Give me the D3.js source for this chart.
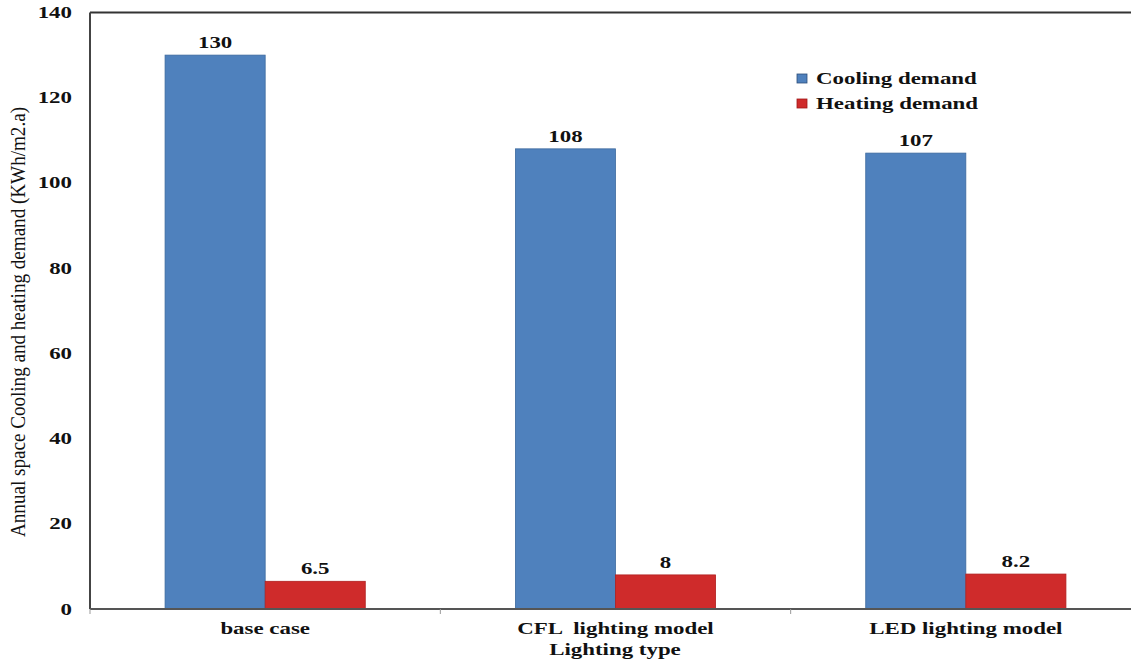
<!DOCTYPE html>
<html>
<head>
<meta charset="utf-8">
<script src="https://cdn.jsdelivr.net/npm/d3@7"></script>
<style>
  html, body { margin: 0; padding: 0; background: #fff; }
  svg { display: block; }
  text { font-family: "Liberation Serif", "Times New Roman", serif; fill: #111; white-space: pre; }
</style>
</head>
<body>
<svg id="chart" width="1131" height="661"></svg>
<script>
// Lighting scenarios and annual demand per series (kWh/m2.a)
const categories = ["base case", "CFL  lighting model", "LED lighting model"];
const seriesNames = ["Cooling demand", "Heating demand"];
const coolingDemand = [130, 108, 107];
const heatingDemand = [6.5, 8, 8.2];
const valueLabels = [["130", "108", "107"], ["6.5", "8", "8.2"]];
const yTicks = [0, 20, 40, 60, 80, 100, 120, 140];
const colors = ["#4F81BD", "#CF2B2B"];

const series = [coolingDemand, heatingDemand];
const svg = d3.select("#chart");

const plot = { left: 90, right: 1141, top: 12.5, bottom: 609 };
const sx = 1.43; // horizontal stretch applied to bold labels

const x0 = d3.scaleBand().domain(categories).range([plot.left, plot.right]).paddingInner(0).paddingOuter(0);
const x1 = d3.scaleBand().domain(seriesNames).range([0, x0.bandwidth()]).paddingOuter(0.75).paddingInner(0);
const y = d3.scaleLinear().domain([0, 140]).range([plot.bottom, plot.top]);

// Bars with value labels
categories.forEach((c, i) => {
  seriesNames.forEach((s, j) => {
    const v = series[j][i];
    svg.append("rect")
      .attr("x", x0(c) + x1(s))
      .attr("y", y(v))
      .attr("width", x1.bandwidth())
      .attr("height", y(0) - y(v))
      .attr("fill", colors[j])
      .attr("stroke", j === 0 ? "#3d6a9e" : "#b02020")
      .attr("stroke-width", 0.8);
    svg.append("text")
      .attr("transform", `translate(${x0(c) + x1(s) + x1.bandwidth() / 2},${y(v) - 7}) scale(${sx},1)`)
      .attr("text-anchor", "middle")
      .attr("font-weight", "bold")
      .attr("font-size", 16)
      .text(valueLabels[j][i]);
  });
});

// Frame: top and left lines
svg.append("line").attr("x1", plot.left).attr("x2", plot.right).attr("y1", plot.top).attr("y2", plot.top)
  .attr("stroke", "#333").attr("stroke-width", 2);
svg.append("line").attr("x1", plot.left).attr("x2", plot.left).attr("y1", plot.top).attr("y2", plot.bottom)
  .attr("stroke", "#444").attr("stroke-width", 2);

// X axis
const xAxis = svg.append("g").attr("transform", `translate(0,${plot.bottom})`);
xAxis.append("line").attr("x1", plot.left).attr("x2", plot.right).attr("y1", 0).attr("y2", 0)
  .attr("stroke", "#555").attr("stroke-width", 2);
const boundaries = categories.map(c => x0(c));
xAxis.selectAll("line.tick").data(boundaries).enter().append("line")
  .attr("x1", d => d).attr("x2", d => d).attr("y1", 0).attr("y2", 5)
  .attr("stroke", "#999").attr("stroke-width", 1);
xAxis.selectAll("text.cat").data(categories).enter().append("text")
  .attr("transform", d => `translate(${x0(d) + x0.bandwidth() / 2},25) scale(${sx},1)`)
  .attr("text-anchor", "middle")
  .attr("font-weight", "bold")
  .attr("font-size", 16)
  .text(d => d);

// Y tick labels
svg.selectAll("text.ytick").data(yTicks).enter().append("text")
  .attr("transform", d => `translate(72,${y(d) + 5.5}) scale(${sx},1)`)
  .attr("text-anchor", "end")
  .attr("font-weight", "bold")
  .attr("font-size", 16)
  .text(d => d);

// Axis titles
svg.append("text")
  .attr("transform", `translate(615,655) scale(${sx},1)`)
  .attr("text-anchor", "middle")
  .attr("font-weight", "bold")
  .attr("font-size", 16)
  .text("Lighting type");

svg.append("text")
  .attr("transform", "translate(25,322) rotate(-90)")
  .attr("text-anchor", "middle")
  .attr("font-size", 20)
  .attr("textLength", 430)
  .attr("lengthAdjust", "spacingAndGlyphs")
  .text("Annual space Cooling and heating demand (KWh/m2.a)");

// Legend
const legend = svg.append("g").attr("transform", "translate(797,74)");
seriesNames.forEach((s, j) => {
  const g = legend.append("g").attr("transform", `translate(0,${j * 25})`);
  g.append("rect").attr("x", 0).attr("y", 0).attr("width", 10).attr("height", 9)
    .attr("fill", colors[j]).attr("stroke", j === 0 ? "#2d4f7a" : "#a01818").attr("stroke-width", 0.8);
  g.append("text")
    .attr("transform", `translate(19,10) scale(${sx},1)`)
    .attr("font-weight", "bold")
    .attr("font-size", 16)
    .text(s);
});
</script>
</body>
</html>
